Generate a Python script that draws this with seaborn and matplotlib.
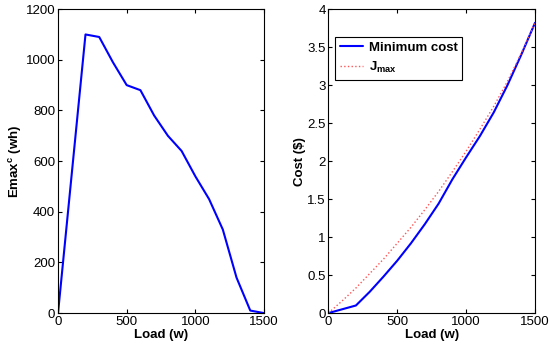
import pandas as pd
import numpy as np
import matplotlib
matplotlib.use("Agg")
import matplotlib.pyplot as plt
import seaborn as sns

# load values
load = [0, 100, 200, 300, 400, 500, 600, 700, 800, 900, 1000, 1100, 1200, 1300, 1400, 1500]
emax = [0, 550, 1100, 1090, 990, 900, 880, 780, 700, 640, 540, 450, 330, 140, 10, 0]
min_cost = [0, 0.05, 0.1, 0.28, 0.48, 0.69, 0.92, 1.17, 1.44, 1.76, 2.05, 2.33, 2.64, 3.0, 3.4, 3.82]
j_max = [0, 0.16, 0.33, 0.52, 0.71, 0.92, 1.13, 1.36, 1.6, 1.86, 2.13, 2.42, 2.72, 3.05, 3.42, 3.82]

sns.set_style("ticks")
plt.rcParams['font.family'] = ['Liberation Sans', 'DejaVu Sans']
plt.rcParams['mathtext.fontset'] = 'custom'
plt.rcParams['mathtext.rm'] = 'Liberation Sans'
plt.rcParams['mathtext.bf'] = 'Liberation Sans:bold'
plt.rcParams['xtick.direction'] = 'in'
plt.rcParams['ytick.direction'] = 'in'
plt.rcParams['text.color'] = 'black'
plt.rcParams['axes.labelcolor'] = 'black'
plt.rcParams['xtick.color'] = 'black'
plt.rcParams['ytick.color'] = 'black'

df = pd.DataFrame({'Load': load, 'Emax': emax, 'MinCost': min_cost, 'Jmax': j_max})

fig = plt.figure(figsize=(5.5, 3.51), dpi=100)
ax1 = fig.add_axes([0.1055, 0.108, 0.3745, 0.866])
ax2 = fig.add_axes([0.597, 0.108, 0.3758, 0.866])

sns.lineplot(data=df, x='Load', y='Emax', ax=ax1, color='#0000ff', linewidth=1.5)
ax1.set_xlim(0, 1500)
ax1.set_ylim(0, 1200)
ax1.set_xticks([0, 500, 1000, 1500])
ax1.set_yticks(np.arange(0, 1201, 200))
ax1.set_xlabel('Load (w)', fontweight='bold', fontsize=9.5, labelpad=1)
ax1.set_ylabel(r'$\mathbf{Emax^{c}}$ $\mathbf{(wh)}$', fontsize=9.5, labelpad=1)

sns.lineplot(data=df, x='Load', y='MinCost', ax=ax2, color='#0000ff', linewidth=1.5,
             label='Minimum cost')
sns.lineplot(data=df, x='Load', y='Jmax', ax=ax2, color='#ff5555', linewidth=1,
             linestyle=':', label=r'$\mathbf{J_{max}}$')
ax2.set_xlim(0, 1500)
ax2.set_ylim(0, 4)
ax2.set_xticks([0, 500, 1000, 1500])
ax2.set_yticks(np.arange(0, 4.01, 0.5))
ax2.set_yticklabels(['0', '0.5', '1', '1.5', '2', '2.5', '3', '3.5', '4'])
ax2.set_xlabel('Load (w)', fontweight='bold', fontsize=9.5, labelpad=1)
ax2.set_ylabel('Cost ($)', fontweight='bold', fontsize=9.5, labelpad=1)

leg = ax2.legend(loc='upper left', bbox_to_anchor=(0.032, 0.908), fancybox=False,
                 framealpha=1, edgecolor='black', prop={'weight': 'bold', 'size': 9.5},
                 handlelength=1.8, borderpad=0.35, labelspacing=0.45, handletextpad=0.4,
                 borderaxespad=0)
leg.get_frame().set_linewidth(0.8)

for ax in (ax1, ax2):
    ax.tick_params(labelsize=9.5, length=3, top=True, right=True, pad=2)
    for s in ax.spines.values():
        s.set_visible(True)
        s.set_linewidth(0.8)
        s.set_color('black')

fig.savefig('out.png', dpi=100)
